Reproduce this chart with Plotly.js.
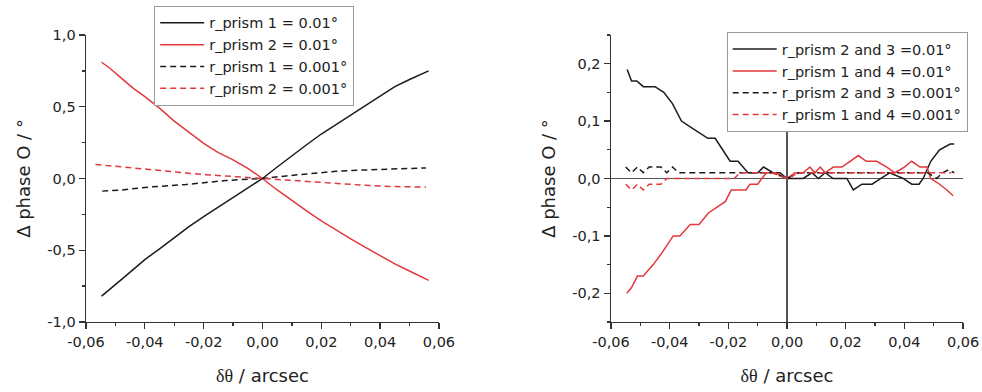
<!DOCTYPE html>
<html>
<head>
<meta charset="utf-8">
<script src="https://cdn.plot.ly/plotly-3.0.1.min.js"></script>
<style>html,body{margin:0;padding:0;background:#fff;}#chart{width:982px;height:392px;}</style>
</head>
<body>
<div id="chart"></div>
<script>
// ---------- Left panel data ----------
const leftX = [-0.0547,-0.052,-0.048,-0.044,-0.040,-0.035,-0.030,-0.025,-0.020,-0.015,-0.010,-0.005,0,0.005,0.010,0.015,0.020,0.025,0.030,0.035,0.040,0.045,0.050,0.0565];
const leftPrism1_001 = [-0.82,-0.775,-0.705,-0.635,-0.565,-0.49,-0.41,-0.335,-0.265,-0.20,-0.135,-0.07,0,0.08,0.16,0.235,0.31,0.375,0.44,0.505,0.575,0.64,0.69,0.75];
const leftPrism2_001 = [0.81,0.77,0.70,0.63,0.57,0.49,0.40,0.32,0.245,0.18,0.13,0.07,0,-0.08,-0.155,-0.225,-0.295,-0.36,-0.42,-0.48,-0.54,-0.595,-0.645,-0.71];
const leftXd1 = [-0.0545,-0.048,-0.0375,-0.026,-0.0126,0,0.008,0.016,0.025,0.033,0.044,0.0556];
const leftPrism1_0001 = [-0.088,-0.080,-0.058,-0.042,-0.014,0,0.018,0.035,0.050,0.058,0.066,0.074];
const leftXd2 = [-0.0568,-0.048,-0.0375,-0.0205,-0.0035,0,0.008,0.016,0.025,0.033,0.044,0.0556];
const leftPrism2_0001 = [0.098,0.080,0.058,0.028,0.005,0,-0.010,-0.022,-0.035,-0.045,-0.056,-0.060];

// ---------- Right panel data ----------
const rX1 = [-0.0545,-0.053,-0.0512,-0.049,-0.045,-0.042,-0.039,-0.036,-0.033,-0.030,-0.027,-0.0245,-0.022,-0.0194,-0.0167,-0.0133,-0.010,-0.008,-0.0048,-0.0024,0,0.003,0.0055,0.0085,0.0107,0.013,0.0157,0.0204,0.0226,0.0255,0.029,0.032,0.035,0.0396,0.0425,0.045,0.0464,0.049,0.052,0.0556,0.057];
const rPrism23_001 = [0.19,0.17,0.17,0.16,0.16,0.15,0.13,0.10,0.09,0.08,0.07,0.07,0.05,0.03,0.03,0.01,0.01,0.02,0.01,0.01,0,0,0,0.01,0,0.01,0,0,-0.02,-0.01,-0.01,0,0.01,0,-0.01,-0.01,0,0.03,0.05,0.06,0.06];
const rX2 = [-0.0546,-0.053,-0.051,-0.049,-0.0456,-0.0427,-0.0388,-0.0365,-0.033,-0.030,-0.0268,-0.024,-0.021,-0.019,-0.014,-0.0126,-0.010,-0.0086,-0.007,-0.004,0,0.0027,0.0055,0.0078,0.0095,0.0113,0.013,0.0158,0.0187,0.0215,0.0243,0.027,0.0306,0.034,0.0368,0.040,0.0425,0.0453,0.0477,0.049,0.052,0.0545,0.0566];
const rPrism14_001 = [-0.20,-0.19,-0.17,-0.17,-0.15,-0.13,-0.10,-0.10,-0.08,-0.08,-0.06,-0.05,-0.04,-0.02,-0.02,-0.01,-0.01,0,0.01,0.01,0,0.01,0.01,0.02,0.01,0.02,0.01,0.02,0.02,0.03,0.04,0.03,0.03,0.02,0.01,0.02,0.03,0.02,0.02,0,-0.01,-0.02,-0.03];
const rX3 = [-0.055,-0.053,-0.051,-0.049,-0.047,-0.045,-0.043,-0.041,-0.039,-0.037,-0.035,-0.030,-0.025,-0.020,-0.017,-0.010,-0.005,0,0.004,0.010,0.020,0.030,0.040,0.048,0.051,0.053,0.055,0.057];
const rPrism23_0001 = [0.02,0.01,0.02,0.01,0.02,0.02,0.02,0.01,0.02,0.01,0.01,0.01,0.01,0.01,0.01,0.01,0.01,0,0.01,0.01,0.01,0.01,0.01,0.01,0,0.01,0.015,0.01];
const rX4 = [-0.055,-0.053,-0.051,-0.049,-0.047,-0.045,-0.043,-0.041,-0.035,-0.030,-0.025,-0.018,-0.016,-0.010,-0.005,0,0.004,0.010,0.020,0.030,0.040,0.050,0.053,0.056];
const rPrism14_0001 = [-0.01,-0.02,-0.01,-0.02,-0.01,-0.01,-0.01,0,0,0,0,0,0.01,0.01,0.01,0,0.01,0.01,0.01,0.01,0.01,0.01,0.01,0.01];

// ---------- Labels ----------
const leftNames = ['r_prism 1 = 0.01°','r_prism 2 = 0.01°','r_prism 1 = 0.001°','r_prism 2 = 0.001°'];
const rightNames = ['r_prism 2 and 3 =0.01°','r_prism 1 and 4 =0.01°','r_prism 2 and 3 =0.001°','r_prism 1 and 4 =0.001°'];
const xTickVals = [-0.06,-0.04,-0.02,0,0.02,0.04,0.06];
const xTickText = ['-0,06','-0,04','-0,02','0,00','0,02','0,04','0,06'];
const yLTickVals = [-1,-0.5,0,0.5,1];
const yLTickText = ['-1,0','-0,5','0,0','0,5','1,0'];
const yRTickVals = [-0.2,-0.1,0,0.1,0.2];
const yRTickText = ['-0,2','-0,1','0,0','0,1','0,2'];
const yTitle = 'Δ phase O / °';
const xTitle = '<span style="font-family:Liberation Serif">δθ</span> / arcsec';

const BLACK = '#1b1b1b', RED = '#e2383c';
const FONT = 'DejaVu Sans, Liberation Sans, sans-serif';
const DASH = '6px,4px';

const traces = [
  {x: leftX, y: leftPrism1_001, name: leftNames[0], line:{color:BLACK,width:1.5}, xaxis:'x', yaxis:'y', legend:'legend'},
  {x: leftX, y: leftPrism2_001, name: leftNames[1], line:{color:RED,width:1.5}, xaxis:'x', yaxis:'y', legend:'legend'},
  {x: leftXd1, y: leftPrism1_0001, name: leftNames[2], line:{color:BLACK,width:1.5,dash:DASH}, xaxis:'x', yaxis:'y', legend:'legend'},
  {x: leftXd2, y: leftPrism2_0001, name: leftNames[3], line:{color:RED,width:1.5,dash:DASH}, xaxis:'x', yaxis:'y', legend:'legend'},
  {x: rX1, y: rPrism23_001, name: rightNames[0], line:{color:BLACK,width:1.5}, xaxis:'x2', yaxis:'y2', legend:'legend2'},
  {x: rX2, y: rPrism14_001, name: rightNames[1], line:{color:RED,width:1.5}, xaxis:'x2', yaxis:'y2', legend:'legend2'},
  {x: rX3, y: rPrism23_0001, name: rightNames[2], line:{color:BLACK,width:1.5,dash:DASH}, xaxis:'x2', yaxis:'y2', legend:'legend2'},
  {x: rX4, y: rPrism14_0001, name: rightNames[3], line:{color:RED,width:1.5,dash:DASH}, xaxis:'x2', yaxis:'y2', legend:'legend2'}
].map(t => Object.assign({type:'scatter', mode:'lines'}, t));

const tickFont = {family: FONT, size: 14.5, color: '#222'};
const titleFont = {family: FONT, size: 18, color: '#222'};
function xAxis(domain, anchor) {
  return {domain, anchor, range:[-0.06,0.06], tickmode:'array', tickvals:xTickVals, ticktext:xTickText,
    ticks:'outside', ticklen:6, tickwidth:1.3, tickcolor:'#333', showline:true, linecolor:'#333', linewidth:1.5,
    showgrid:false, tickfont:tickFont, automargin:false,
    minor:{tickvals:[-0.05,-0.03,-0.01,0.01,0.03,0.05], ticks:'outside', ticklen:3, tickcolor:'#333', showgrid:false},
    title:{text:xTitle, font:titleFont, standoff:20}};
}
const legendCommon = {xanchor:'left', yanchor:'top', bgcolor:'#fff', bordercolor:'#999', borderwidth:1,
  font:{family:FONT, size:14.5, color:'#222'}, tracegroupgap:0, itemwidth:44};
const layout = {
  width: 982, height: 392,
  margin: {l:0, r:0, t:0, b:0},
  paper_bgcolor: '#fff', plot_bgcolor: '#fff',
  showlegend: true,
  font: {family: FONT, color:'#222'},
  xaxis: Object.assign(xAxis([0.0876,0.4470],'y'), {zeroline:false}),
  yaxis: {domain:[0.1786,0.9107], anchor:'x', range:[-1,1], tickmode:'array', tickvals:yLTickVals, ticktext:yLTickText,
    ticks:'outside', ticklen:6, tickwidth:1.3, tickcolor:'#333', showline:true, linecolor:'#333', linewidth:1.5,
    showgrid:false, zeroline:false, tickfont:tickFont, automargin:false,
    minor:{tickvals:[-0.75,-0.25,0.25,0.75], ticks:'outside', ticklen:3, tickcolor:'#333', showgrid:false},
    title:{text:yTitle, font:titleFont, standoff:12}},
  xaxis2: Object.assign(xAxis([0.6222,0.9807],'y2'), {zeroline:true, zerolinecolor:'#555', zerolinewidth:1.5}),
  yaxis2: {domain:[0.1786,0.9107], anchor:'x2', range:[-0.25,0.25], tickmode:'array', tickvals:yRTickVals, ticktext:yRTickText,
    ticks:'outside', ticklen:6, tickwidth:1.3, tickcolor:'#333', showline:true, linecolor:'#333', linewidth:1.5,
    showgrid:false, zeroline:true, zerolinecolor:'#555', zerolinewidth:1.5, tickfont:tickFont, automargin:false,
    minor:{tickvals:[-0.25,-0.15,-0.05,0.05,0.15,0.25], ticks:'outside', ticklen:3, tickcolor:'#333', showgrid:false},
    title:{text:yTitle, font:titleFont, standoff:12}},
  legend: Object.assign({x:0.157, y:0.985}, legendCommon),
  legend2: Object.assign({x:0.740, y:0.918}, legendCommon)
};
Plotly.newPlot('chart', traces, layout, {staticPlot:true, displayModeBar:false});
</script>
</body>
</html>
